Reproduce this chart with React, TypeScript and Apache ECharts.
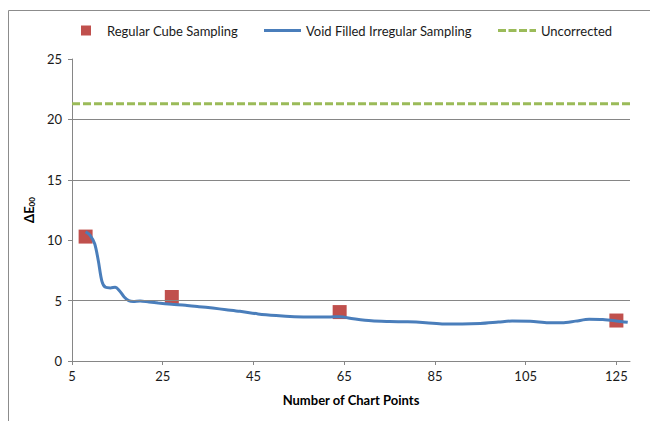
import React, { useEffect, useRef } from "react";
import * as echarts from "echarts";

const cubeX = [8, 27, 64, 125];
const cubeY = [10.3, 5.3, 4.05, 3.35];

const voidX = [8, 9, 10, 10.8, 11.6, 12.4, 13.5, 14.5, 15.5, 16.5, 17.5, 18.5, 20, 22, 24, 27, 30, 33, 36, 39, 42, 46, 50, 54, 58, 62, 64, 67, 71, 75, 79, 83, 87, 91, 95, 99, 102, 106, 110, 113, 116, 119, 122, 125, 127.5];
const voidY = [10.7, 10.4, 9.7, 8.3, 6.6, 6.1, 6.05, 6.1, 5.8, 5.3, 5.0, 4.92, 4.97, 4.88, 4.8, 4.7, 4.62, 4.5, 4.38, 4.25, 4.12, 3.9, 3.76, 3.67, 3.64, 3.65, 3.66, 3.5, 3.33, 3.27, 3.24, 3.17, 3.07, 3.06, 3.1, 3.22, 3.31, 3.3, 3.17, 3.17, 3.3, 3.45, 3.43, 3.32, 3.2];

const uncorrectedX = [5, 128];
const uncorrectedY = [21.3, 21.3];

const gridValues = [5, 15, 20];
const xTicks = [5, 25, 45, 65, 85, 105, 125];

const FONT = "Lato, 'Open Sans', sans-serif";

export default function App() {
  const ref = useRef<HTMLDivElement>(null);
  useEffect(() => {
    if (!ref.current) return;
    const chart = echarts.init(ref.current, undefined, { renderer: "svg" });
    const legendText = { fontFamily: FONT, fontSize: 13, color: "#1a1a1a" };
    chart.setOption({
      animation: false,
      backgroundColor: "#ffffff",
      textStyle: { fontFamily: FONT },
      graphic: [
        {
          type: "rect",
          shape: { x: 8.5, y: 10.5, width: 700, height: 500 },
          style: { fill: "none", stroke: "#8c8c8c", lineWidth: 1 },
          silent: true,
        },
      ],
      legend: [
        {
          data: [{ name: "Regular Cube Sampling", icon: "rect" }],
          left: 81,
          top: 24,
          padding: 0,
          itemWidth: 10,
          itemHeight: 10,
          textStyle: { ...legendText, padding: [0, 0, 0, 11] },
        },
        {
          data: [{ name: "Void Filled Irregular Sampling", icon: "rect" }],
          left: 264,
          top: 24,
          padding: 0,
          itemWidth: 37,
          itemHeight: 3,
          textStyle: legendText,
        },
        {
          data: [
            {
              name: "Uncorrected",
              icon: "path://M0,0h8v3h-8zM10.5,0h8v3h-8zM21,0h8v3h-8zM31.5,0h6.5v3h-6.5z",
            },
          ],
          left: 498,
          top: 24,
          padding: 0,
          itemWidth: 38,
          itemHeight: 3,
          textStyle: legendText,
        },
      ],
      grid: { left: 72, right: 20, top: 59, bottom: 60, containLabel: false },
      xAxis: {
        type: "value",
        min: 5,
        max: 128,
        interval: 20,
        name: "Number of Chart Points",
        nameLocation: "middle",
        nameGap: 32,
        nameTextStyle: { fontFamily: FONT, fontSize: 13, fontWeight: "bold", color: "#000" },
        axisLine: { show: true, lineStyle: { color: "#868686", width: 1 } },
        axisTick: { show: true, length: 4, lineStyle: { color: "#868686" } },
        axisLabel: {
          fontFamily: FONT,
          fontSize: 13,
          color: "#1a1a1a",
          margin: 8,
          showMaxLabel: false,
          formatter: (v: number) => (xTicks.includes(v) ? String(v) : ""),
        },
        splitLine: { show: false },
      },
      yAxis: {
        type: "value",
        min: 0,
        max: 25,
        interval: 5,
        name: "{a|ΔE}{b|00}",
        nameLocation: "middle",
        nameGap: 32,
        nameTextStyle: {
          align: "center",
          verticalAlign: "middle",
          rich: {
            a: { fontFamily: FONT, fontSize: 13, fontWeight: "bold", color: "#000" },
            b: { fontFamily: FONT, fontSize: 8, fontWeight: "bold", color: "#000", padding: [6, 0, 0, 0] },
          },
        },
        axisLine: { show: true, lineStyle: { color: "#868686", width: 1 } },
        axisTick: { show: true, length: 4, lineStyle: { color: "#868686" } },
        axisLabel: { fontFamily: FONT, fontSize: 13, color: "#1a1a1a", margin: 10 },
        splitLine: { show: false },
      },
      series: [
        {
          name: "Uncorrected",
          type: "line",
          data: uncorrectedX.map((x, i) => [x, uncorrectedY[i]]),
          showSymbol: false,
          symbol: "none",
          color: "#9bbb59",
          lineStyle: { color: "#9bbb59", width: 3, type: [8, 3] },
          z: 1,
          markLine: {
            silent: true,
            symbol: "none",
            label: { show: false },
            lineStyle: { color: "#868686", width: 1, type: "solid" },
            data: gridValues.map((v) => ({ yAxis: v })),
          },
        },
        {
          name: "Void Filled Irregular Sampling",
          type: "line",
          data: voidX.map((x, i) => [x, voidY[i]]),
          smooth: 0.3,
          showSymbol: false,
          symbol: "none",
          color: "#4a7ebb",
          lineStyle: { color: "#4a7ebb", width: 3 },
          z: 3,
        },
        {
          name: "Regular Cube Sampling",
          type: "scatter",
          data: cubeX.map((x, i) => [x, cubeY[i]]),
          symbol: "rect",
          symbolSize: 14,
          itemStyle: { color: "#c0504d", opacity: 1 },
          z: 2,
        },
      ],
    });
    return () => chart.dispose();
  }, []);
  return (
    <div
      ref={ref}
      style={{ position: "fixed", left: 0, top: 0, width: 650, height: 421, background: "#fff" }}
    />
  );
}
